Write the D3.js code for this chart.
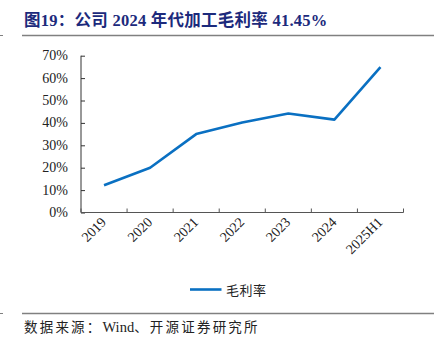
<!DOCTYPE html>
<html><head><meta charset="utf-8">
<script src="https://cdn.jsdelivr.net/npm/d3@7"></script>
<style>body{margin:0;background:#fff}svg{display:block}</style>
</head><body><svg id="c" width="444" height="343"></svg>
<script>
const categories = ["2019","2020","2021","2022","2023","2024","2025H1"];
const grossMargin = [12.2, 20.0, 35.0, 40.2, 44.2, 41.45, 64.9];
const yTicks = [0,10,20,30,40,50,60,70];
const titleText = "图19：公司 2024 年代加工毛利率 41.45%";
const seriesName = "毛利率";
const sourceParts = ["数据来源：", "Wind", "、开源证券研究所"];

const svg = d3.select("#c");
const serif = "'Liberation Serif','Noto Sans CJK SC',serif";
const cjk = "'Noto Sans CJK SC','Liberation Serif',serif";

// title
svg.append("text").attr("x",24).attr("y",26)
  .attr("font-family",serif).attr("font-weight","bold").attr("font-size",16.5)
  .attr("letter-spacing",0.25)
  .attr("fill","#1c2a7c").text(titleText);
svg.append("line").attr("x1",22).attr("x2",434).attr("y1",35.5).attr("y2",35.5)
  .attr("stroke","#808080").attr("stroke-width",1.5);
svg.append("line").attr("x1",0).attr("x2",3).attr("y1",35.5).attr("y2",35.5)
  .attr("stroke","#808080").attr("stroke-width",1);

const x = d3.scaleBand().domain(categories).range([81,403.5]);
const y = d3.scaleLinear().domain([0,70]).range([212.5,55.7]);

// y axis
const ya = svg.append("g").attr("transform","translate(81,0)")
  .call(d3.axisRight(y).tickValues(yTicks).tickSize(4).tickFormat(()=>""));
ya.select(".domain").attr("stroke","#333").attr("d","M0,"+y(70)+"V"+y(0));
ya.selectAll("line").attr("stroke","#333");
svg.append("g").selectAll("text").data(yTicks).join("text")
  .attr("x",68).attr("y",d=>y(d)+4.5).attr("text-anchor","end")
  .attr("font-family",serif).attr("font-size",14).attr("fill","#222")
  .text(d=>d+"%");

// x axis
const xa = svg.append("g").attr("transform","translate(0,212.5)")
  .call(d3.axisTop(x).tickSize(4).tickFormat(()=>""));
xa.selectAll(".tick").remove();
xa.select(".domain").attr("stroke","#555").attr("d","M81,0H403.5");
const edges = categories.map(c=>x(c)).concat([x.range()[1]]);
xa.selectAll("line.t").data(edges).join("line").attr("class","t")
  .attr("x1",d=>d).attr("x2",d=>d).attr("y1",0).attr("y2",-4).attr("stroke","#555");
svg.append("g").selectAll("text").data(categories).join("text")
  .attr("transform",d=>`translate(${x(d)+x.bandwidth()/2+3},${223}) rotate(-45)`)
  .attr("text-anchor","end").attr("font-family",serif).attr("font-size",14).attr("fill","#222")
  .text(d=>d);

// line
const line = d3.line().x((d,i)=>x(categories[i])+x.bandwidth()/2).y(d=>y(d));
svg.append("path").datum(grossMargin).attr("d",line).attr("fill","none")
  .attr("stroke","#0a70c2").attr("stroke-width",2.6).attr("stroke-linejoin","round");

// legend
svg.append("line").attr("x1",190).attr("x2",221.5).attr("y1",289.5).attr("y2",289.5)
  .attr("stroke","#0a70c2").attr("stroke-width",2.6);
svg.append("text").attr("x",226).attr("y",294.5).attr("font-family",cjk)
  .attr("font-size",13).attr("letter-spacing",0.5).attr("fill","#222").text(seriesName);

// footer
svg.append("line").attr("x1",22).attr("x2",434).attr("y1",313.5).attr("y2",313.5)
  .attr("stroke","#808080").attr("stroke-width",1.5);
svg.append("line").attr("x1",0).attr("x2",3).attr("y1",313.5).attr("y2",313.5)
  .attr("stroke","#808080").attr("stroke-width",1);
const src = svg.append("text").attr("x",24).attr("y",332).attr("font-size",13.5).attr("fill","#222");
src.selectAll("tspan").data(sourceParts).join("tspan")
  .attr("font-family",(d,i)=>i===1?serif:cjk)
  .attr("font-size",(d,i)=>i===1?14.5:13.5)
  .attr("letter-spacing",(d,i)=>i===1?0:2.2)
  .text(d=>d);
</script></body></html>
